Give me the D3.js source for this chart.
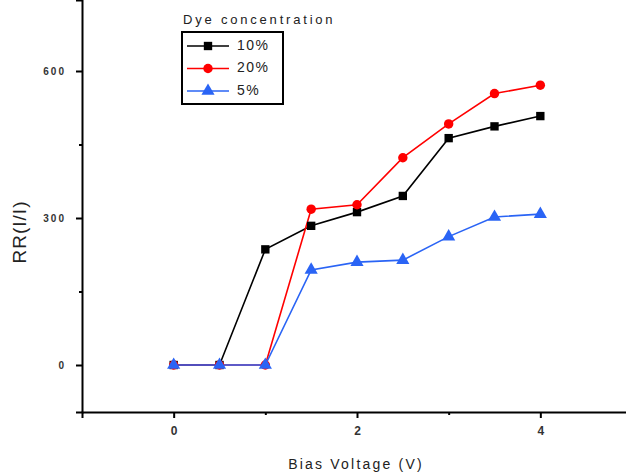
<!DOCTYPE html>
<html>
<head>
<meta charset="utf-8">
<script src="https://cdn.jsdelivr.net/npm/d3@7"></script>
<style>
  body { margin: 0; background: #fff; }
  svg { display: block; font-family: "Liberation Sans", Arial, sans-serif; }
</style>
</head>
<body>
<div id="canvas"></div>
<script>
"use strict";

let svgWidth = 626;
let svgHeight = 475;

// Data
let voltages = [0, 0.5, 1, 1.5, 2, 2.5, 3, 3.5, 4];
let rr10 = [0, 0, 236, 284, 312, 345, 463, 487, 508];
let rr20 = [0, 0, 0, 318, 327, 423, 492, 554, 571];
let rr5 = [0, 0, 0, 194, 210, 214, 262, 302, 308];
let seriesNames = ["10%", "20%", "5%"];
let xTicks = [0, 2, 4];
let xMinor = [1, 3];
let yTicks = [0, 300, 600];
let yMinor = [150, 450];

let series = [
    {name: seriesNames[0], values: rr10, color: "#000000", shape: d3.symbolSquare, size: 70},
    {name: seriesNames[1], values: rr20, color: "#ff0000", shape: d3.symbolCircle, size: 70},
    {name: seriesNames[2], values: rr5, color: "#2a64f5", shape: d3.symbolTriangle, size: 75}
];

let svg = d3.select("#canvas")
    .append("svg")
    .attr("width", svgWidth)
    .attr("height", svgHeight);

// Scales (plot is cropped at top and right in the original)
let xScale = d3.scaleLinear().domain([-1, 5]).range([82, 632]);
let yBase = d3.scaleLinear().domain([0, 600]).range([365, 71]);
let yScale = d3.scaleLinear()
    .domain([yBase.invert(412), yBase.invert(0)])
    .range([412, 0]);

// Axes
let xAxis = svg.append("g")
    .attr("transform", "translate(0,412)")
    .call(d3.axisBottom(xScale).tickValues(xTicks).tickSize(6).tickPadding(8).tickFormat(d3.format("d")));
let xAxisMinor = svg.append("g")
    .attr("transform", "translate(0,412)")
    .call(d3.axisBottom(xScale).tickValues(xMinor).tickSize(3).tickFormat(""));

let yAxis = svg.append("g")
    .attr("transform", "translate(82,0)")
    .call(d3.axisLeft(yScale).tickValues(yTicks).tickSize(6).tickPadding(10).tickFormat(d3.format("d")));
let yAxisMinor = svg.append("g")
    .attr("transform", "translate(82,0)")
    .call(d3.axisLeft(yScale).tickValues(yMinor).tickSize(3).tickFormat(""));

[xAxis, xAxisMinor, yAxis, yAxisMinor].forEach(g => {
    g.select(".domain").attr("stroke", "#000").attr("stroke-width", 2);
    g.selectAll(".tick line").attr("stroke", "#000").attr("stroke-width", 2);
    g.selectAll(".tick text")
        .attr("fill", "#333")
        .style("font-family", "'Liberation Sans', Arial, sans-serif");
});
xAxis.selectAll(".tick text").style("font-size", "12px").style("font-weight", "bold");
yAxis.selectAll(".tick text")
    .style("font-size", "10px")
    .style("font-weight", "bold")
    .style("letter-spacing", "2px");
xAxisMinor.select(".domain").remove();
yAxisMinor.select(".domain").remove();

// Lines and markers
let line = d3.line()
    .x((d, i) => xScale(voltages[i]))
    .y(d => yScale(d));

series.forEach(s => {
    svg.append("path")
        .datum(s.values)
        .attr("fill", "none")
        .attr("stroke", s.color)
        .attr("stroke-width", 1.6)
        .attr("d", line);
});

series.forEach(s => {
    svg.selectAll(null)
        .data(s.values)
        .join("path")
        .attr("transform", (d, i) => `translate(${xScale(voltages[i])},${yScale(d)})`)
        .attr("d", d3.symbol().type(s.shape).size(s.size))
        .attr("fill", s.color);
});

// Axis titles
svg.append("text")
    .attr("x", 356)
    .attr("y", 469)
    .attr("text-anchor", "middle")
    .attr("fill", "#222")
    .style("font-size", "14px")
    .style("letter-spacing", "2.2px")
    .text("Bias Voltage (V)");

svg.append("text")
    .attr("transform", "rotate(-90)")
    .attr("x", -232)
    .attr("y", 26)
    .attr("text-anchor", "middle")
    .attr("fill", "#222")
    .style("font-size", "19px")
    .style("letter-spacing", "1px")
    .text("RR(I/I)");

// Legend
let legendX = 182;
let legendY = 32;

svg.append("text")
    .attr("x", legendX + 1)
    .attr("y", 24)
    .attr("fill", "#222")
    .style("font-size", "13px")
    .style("letter-spacing", "2.8px")
    .text("Dye concentration");

svg.append("rect")
    .attr("x", legendX)
    .attr("y", legendY)
    .attr("width", 101)
    .attr("height", 72)
    .attr("fill", "none")
    .attr("stroke", "#000")
    .attr("stroke-width", 2);

series.forEach((s, i) => {
    let ly = legendY + 14 + i * 22.5;
    svg.append("line")
        .attr("x1", legendX + 5)
        .attr("x2", legendX + 47)
        .attr("y1", ly)
        .attr("y2", ly)
        .attr("stroke", s.color)
        .attr("stroke-width", 1.6);
    svg.append("path")
        .attr("transform", `translate(${legendX + 26},${ly})`)
        .attr("d", d3.symbol().type(s.shape).size(s.size))
        .attr("fill", s.color);
    svg.append("text")
        .attr("x", legendX + 55)
        .attr("y", ly)
        .attr("dominant-baseline", "middle")
        .attr("fill", "#222")
        .style("font-size", "14px")
        .style("letter-spacing", "1.5px")
        .text(s.name);
});
</script>
</body>
</html>
